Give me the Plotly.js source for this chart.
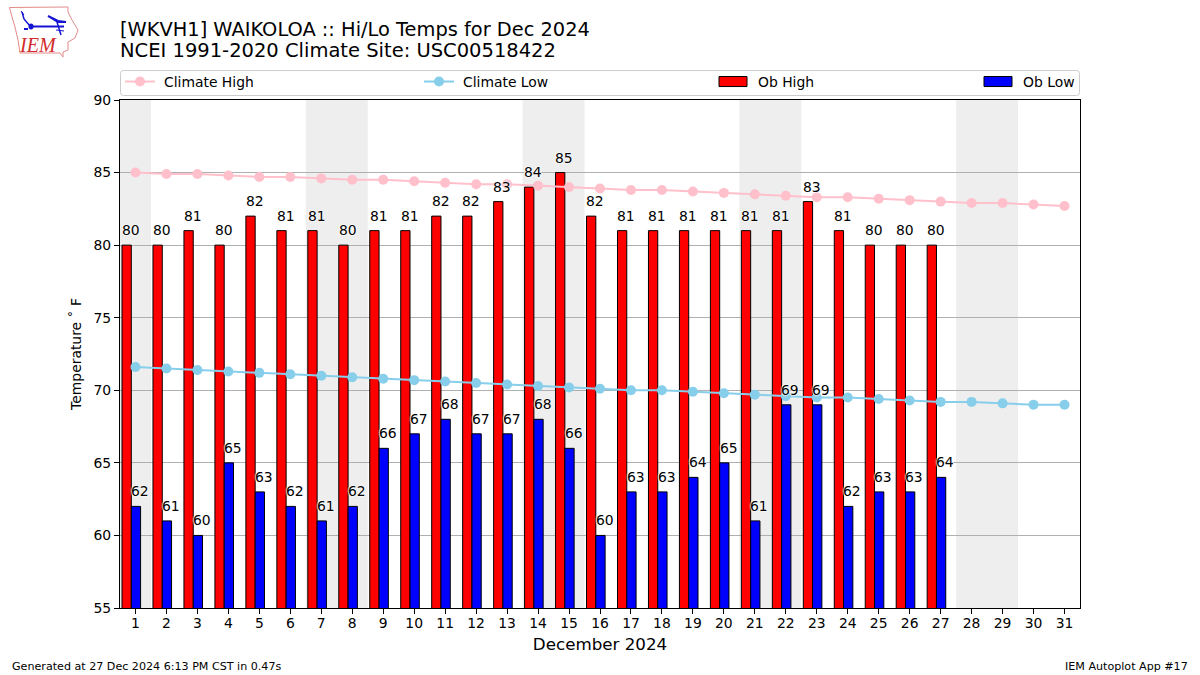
<!DOCTYPE html>
<html><head><meta charset="utf-8">
<script src="https://cdn.plot.ly/plotly-3.0.1.min.js"></script>
<style>html,body{margin:0;padding:0;background:#fff}#c{width:1200px;height:675px}</style>
</head><body><div id="c"></div>
<script>
const days = Array.from({length:31},(_,i)=>i+1);
const obDays = days.slice(0,27);
const climateHigh = [85.0,84.9,84.9,84.8,84.7,84.7,84.6,84.5,84.5,84.4,84.3,84.2,84.2,84.1,84.0,83.9,83.8,83.8,83.7,83.6,83.5,83.4,83.3,83.3,83.2,83.1,83.0,82.9,82.9,82.8,82.7];
const climateLow = [71.6,71.5,71.4,71.3,71.2,71.1,71.0,70.9,70.8,70.7,70.6,70.5,70.4,70.3,70.2,70.1,70.0,70.0,69.9,69.8,69.7,69.6,69.5,69.5,69.4,69.3,69.2,69.2,69.1,69.0,69.0];
const obHigh = [80,80,81,80,82,81,81,80,81,81,82,82,83,84,85,82,81,81,81,81,81,81,83,81,80,80,80];
const obLow = [62,61,60,65,63,62,61,62,66,67,68,67,67,68,66,60,63,63,64,65,61,69,69,62,63,63,64];
const weekendSpans = [[0.5,1.5],[6.5,8.5],[13.5,15.5],[20.5,22.5],[27.5,29.5]];

const FONT = 'DejaVu Sans, sans-serif';
const px = x => (x-120)/960, py = y => (608-y)/508;
const P = pts => pts.map((p,i)=>(i?'L':'M')+px(p[0]).toFixed(5)+','+py(p[1]).toFixed(5)).join(' ');
const logoLine = (pts,color,width,extra={}) => Object.assign({type:'path',xref:'paper',yref:'paper',path:P(pts),line:{color,width},layer:'above'},extra);

const traces = [
 {type:'bar',name:'Ob High',x:obDays,y:obHigh,width:0.3,offset:-0.435,marker:{color:'#ff0000',line:{color:'#000',width:1}},legend:'legend3'},
 {type:'bar',name:'Ob Low',x:obDays,y:obLow,width:0.3,offset:-0.135,marker:{color:'#0000ff',line:{color:'#000',width:1}},legend:'legend4'},
 {type:'scatter',mode:'lines+markers',name:'Climate High',x:days,y:climateHigh,line:{color:'#ffc0cb',width:2},marker:{color:'#ffc0cb',size:10},legend:'legend'},
 {type:'scatter',mode:'lines+markers',name:'Climate Low',x:days,y:climateLow,line:{color:'#87ceeb',width:2},marker:{color:'#87ceeb',size:10},legend:'legend2'}
];

const halo = '0 0 2px #fff, 0 0 2px #fff, 0 0 2px #fff';
const label = (x,y) => ({x,y,xref:'x',yref:'y',text:String(y),showarrow:false,yanchor:'bottom',yshift:5,
  font:{family:FONT,size:13.9,color:'#000',shadow:halo}});
const annotations = [
 ...obDays.map((d,i)=>label(d-0.15,obHigh[i])),
 ...obDays.map((d,i)=>label(d+0.15,obLow[i])),
 {xref:'paper',yref:'paper',x:px(118),y:py(51),text:'NCEI 1991-2020 Climate Site: USC00518422',showarrow:false,xanchor:'left',yanchor:'middle',font:{family:FONT,size:19.5,color:'#000'}},
 {xref:'paper',yref:'paper',x:px(10),y:py(666),text:'Generated at 27 Dec 2024 6:13 PM CST in 0.47s',showarrow:false,xanchor:'left',yanchor:'middle',font:{family:FONT,size:11.12,color:'#000'}},
 {xref:'paper',yref:'paper',x:px(1190),y:py(666),text:'IEM Autoplot App #17',showarrow:false,xanchor:'right',yanchor:'middle',font:{family:FONT,size:11.12,color:'#000'}},
 {xref:'paper',yref:'paper',x:px(37.5),y:py(45),text:'<i>IEM</i>',showarrow:false,xanchor:'center',yanchor:'middle',font:{family:'Liberation Serif, serif',size:20,color:'#d22b2b'}}
];

const r=3, fx0=120.5, fx1=1079.5, fy0=70.5, fy1=95.5;
const framePath = 'M'+px(fx0+r)+','+py(fy0)+' L'+px(fx1-r)+','+py(fy0)+' Q'+px(fx1)+','+py(fy0)+' '+px(fx1)+','+py(fy0+r)+
 ' L'+px(fx1)+','+py(fy1-r)+' Q'+px(fx1)+','+py(fy1)+' '+px(fx1-r)+','+py(fy1)+
 ' L'+px(fx0+r)+','+py(fy1)+' Q'+px(fx0)+','+py(fy1)+' '+px(fx0)+','+py(fy1-r)+
 ' L'+px(fx0)+','+py(fy0+r)+' Q'+px(fx0)+','+py(fy0)+' '+px(fx0+r)+','+py(fy0)+' Z';

const shapes = [
 ...weekendSpans.map(s=>({type:'rect',xref:'x',yref:'paper',x0:s[0],x1:s[1],y0:0,y1:1,fillcolor:'#eeeeee',line:{width:0},layer:'below'})),
 {type:'path',xref:'paper',yref:'paper',path:framePath,line:{color:'#cccccc',width:1},layer:'below'},
 logoLine([[9.5,7.5],[68,7],[68,12],[72,20],[78,30],[75,38],[68,42],[68,50],[63,52],[63,57],[60,53],[20,53],[18,40],[15,27],[12,17],[9.5,7.5]],'#e58a8a',1),
 logoLine([[31,26.5],[64,26.5]],'#1414d2',2),
 logoLine([[22,12],[24,19],[30,26]],'#1414d2',1.5),
 logoLine([[21,11],[24,15]],'#1414d2',1),
 logoLine([[48,16],[58,21],[66,22],[58,22],[48,16]],'#1414d2',2),
 logoLine([[57,22],[61,35]],'#1414d2',1.5),
 logoLine([[56,30],[64,31]],'#1414d2',1),
 logoLine([[24,29],[28,29]],'#1414d2',2),
 {type:'circle',xref:'paper',yref:'paper',x0:px(28.5),x1:px(33.5),y0:py(29.5),y1:py(23.5),fillcolor:'#1414d2',line:{width:0},layer:'above'}
];

const legendBase = {orientation:'v',bgcolor:'rgba(0,0,0,0)',borderwidth:0,font:{family:FONT,size:13.9,color:'#000'},xanchor:'left',yanchor:'middle',y:py(82),itemwidth:30,itemclick:false,itemdoubleclick:false};
const layout = {
 width:1200,height:675,paper_bgcolor:'#fff',plot_bgcolor:'#fff',
 margin:{l:120,r:120,t:100,b:67,pad:0},
 font:{family:FONT,size:13.9,color:'#000'},
 barmode:'overlay',showlegend:true,
 title:{text:'[WKVH1] WAIKOLOA :: Hi/Lo Temps for Dec 2024',x:120/1200,xanchor:'left',xref:'container',y:1-29/675,yanchor:'middle',font:{family:FONT,size:19.4,color:'#000'},pad:{l:0,t:0,b:0,r:0}},
 xaxis:{range:[0.5,31.5],tickmode:'array',tickvals:days,ticktext:days.map(String),ticks:'outside',ticklen:5,tickwidth:1,tickcolor:'#000',ticklabelstandoff:-3,showgrid:false,zeroline:false,showline:true,mirror:true,linecolor:'#000',linewidth:1,tickangle:0,tickfont:{family:FONT,size:13.9},
   title:{text:'December 2024',font:{family:FONT,size:16.7},standoff:8}},
 yaxis:{range:[55,90],tickmode:'array',tickvals:[55,60,65,70,75,80,85,90],ticks:'outside',ticklen:5,tickwidth:1,tickcolor:'#000',showgrid:true,gridcolor:'#b0b0b0',gridwidth:1,zeroline:false,showline:true,mirror:true,linecolor:'#000',linewidth:1,tickfont:{family:FONT,size:13.9},
   title:{text:'Temperature ˚ F',font:{family:FONT,size:13.9},standoff:8}},
 legend:Object.assign({},legendBase,{x:px(124)}),
 legend2:Object.assign({},legendBase,{x:px(423)}),
 legend3:Object.assign({},legendBase,{x:px(718)}),
 legend4:Object.assign({},legendBase,{x:px(983)}),
 shapes,annotations
};
Plotly.newPlot('c',traces,layout,{displayModeBar:false,responsive:false}).then(gd=>{
  // matplotlib-style swatches in the legends: wide bar boxes and a small left shift
  gd.querySelectorAll('.legendlines, .legendsymbols').forEach(g=>g.setAttribute('transform','translate(-4,0)'));
  gd.querySelectorAll('.legendpoints path.legendundefined').forEach(p=>{p.setAttribute('d','M13,5H-15V-5H13Z');p.style.strokeWidth='1px';});
});
</script></body></html>
